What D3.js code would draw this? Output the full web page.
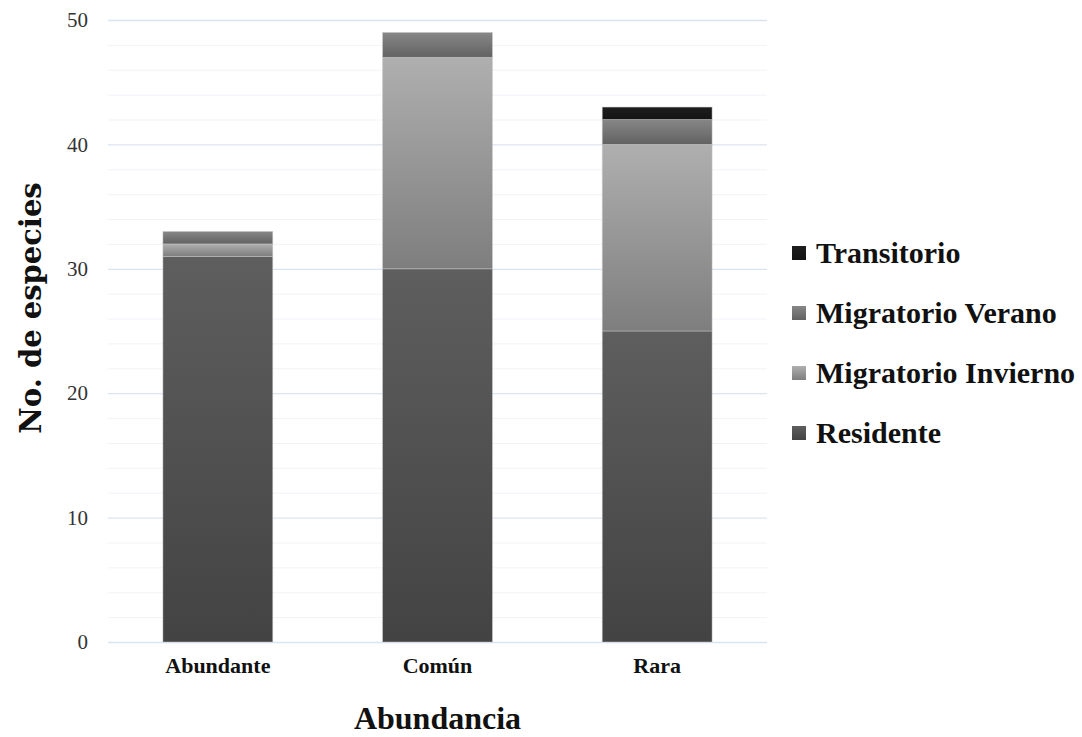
<!DOCTYPE html>
<html>
<head>
<meta charset="utf-8">
<script src="https://cdn.jsdelivr.net/npm/d3@7"></script>
<style>
  html, body { margin: 0; padding: 0; background: #fff; }
  svg { display: block; }
</style>
</head>
<body>
<svg id="chart" width="1082" height="737"></svg>
<script>
// Abundance categories and species counts per migratory status
const categories = ["Abundante", "Común", "Rara"];
const seriesNames = ["Residente", "Migratorio Invierno", "Migratorio Verano", "Transitorio"];
const residente = [31, 30, 25];
const migratorioInvierno = [1, 17, 15];
const migratorioVerano = [1, 2, 2];
const transitorio = [0, 0, 1];
const yTicks = [0, 10, 20, 30, 40, 50];

const rows = categories.map((c, i) => ({
  cat: c,
  "Residente": residente[i],
  "Migratorio Invierno": migratorioInvierno[i],
  "Migratorio Verano": migratorioVerano[i],
  "Transitorio": transitorio[i]
}));

const svg = d3.select("#chart");
const margin = { left: 108, right: 1082 - 767, top: 20, bottom: 737 - 642 };
const W = 1082, H = 737;

const x = d3.scaleBand().domain(categories).range([margin.left, W - margin.right]).paddingInner(0.5).paddingOuter(0.25);
const y = d3.scaleLinear().domain([0, 50]).range([H - margin.bottom, margin.top]);

// Gradient fills per series (top lighter, bottom darker)
const gradStops = {
  "Residente": ["#5e5e5e", "#434343"],
  "Migratorio Invierno": ["#afafaf", "#7e7e7e"],
  "Migratorio Verano": ["#878787", "#626262"],
  "Transitorio": ["#1e1e1e", "#141414"]
};
const defs = svg.append("defs");
seriesNames.forEach((s, i) => {
  const g = defs.append("linearGradient").attr("id", "g" + i)
    .attr("x1", 0).attr("y1", 0).attr("x2", 0).attr("y2", 1);
  g.append("stop").attr("offset", "0%").attr("stop-color", gradStops[s][0]);
  g.append("stop").attr("offset", "100%").attr("stop-color", gradStops[s][1]);
});

// Minor gridlines every 2
const minor = d3.range(2, 50, 2).filter(v => v % 10 !== 0);
svg.append("g").selectAll("line").data(minor).join("line")
  .attr("x1", margin.left).attr("x2", W - margin.right)
  .attr("y1", d => y(d) + 0.5).attr("y2", d => y(d) + 0.5)
  .attr("stroke", "#f1f3f7").attr("stroke-width", 1);

// Major gridlines + tick labels via axis
const yAxis = d3.axisLeft(y).tickValues(yTicks).tickSize(-(W - margin.left - margin.right)).tickPadding(20);
const ya = svg.append("g").attr("transform", `translate(${margin.left},0)`).call(yAxis);
ya.select(".domain").remove();
ya.selectAll(".tick line").attr("stroke", "#dbe5f1").attr("stroke-width", 1.3);
ya.selectAll(".tick text")
  .attr("font-family", "'Liberation Serif', 'DejaVu Serif', serif")
  .attr("font-size", 21).attr("fill", "#333");

// Stacked bars
const stack = d3.stack().keys(seriesNames);
const layers = stack(rows);
layers.forEach((layer, i) => {
  svg.append("g").selectAll("rect").data(layer.filter(d => d[1] - d[0] > 0)).join("rect")
    .attr("x", d => x(d.data.cat))
    .attr("width", x.bandwidth())
    .attr("y", d => y(d[1]))
    .attr("height", d => y(d[0]) - y(d[1]))
    .attr("fill", `url(#g${i})`)
    .attr("stroke", "rgba(200,200,200,0.6)")
    .attr("stroke-width", 0.8);
});

// Category labels
const xa = svg.append("g").attr("transform", `translate(0,${H - margin.bottom})`)
  .call(d3.axisBottom(x).tickSize(0).tickPadding(15));
xa.select(".domain").remove();
xa.selectAll(".tick text")
  .attr("font-family", "'Liberation Serif', serif")
  .attr("font-weight", "bold").attr("font-size", 22).attr("fill", "#111");

// Axis titles
svg.append("text")
  .attr("x", x("Común") + x.bandwidth() / 2).attr("y", 729)
  .attr("text-anchor", "middle")
  .attr("font-family", "'Liberation Serif', serif")
  .attr("font-weight", "bold").attr("font-size", 32).attr("fill", "#111")
  .text("Abundancia");

svg.append("text")
  .attr("transform", "translate(41,308) rotate(-90)")
  .attr("text-anchor", "middle")
  .attr("font-family", "'DejaVu Serif', serif")
  .attr("font-weight", "bold").attr("font-size", 29).attr("fill", "#111")
  .text("No. de especies");

// Legend (top series first)
const legendOrder = seriesNames.slice().reverse();
const lg = svg.append("g");
legendOrder.forEach((s, i) => {
  const idx = seriesNames.indexOf(s);
  const yy = 253 + i * 60;
  lg.append("rect").attr("x", 792).attr("y", yy - 7).attr("width", 14).attr("height", 14)
    .attr("fill", `url(#g${idx})`);
  lg.append("text").attr("x", 816).attr("y", yy + 10)
    .attr("font-family", "'Liberation Serif', serif")
    .attr("font-weight", "bold").attr("font-size", 30).attr("fill", "#111")
    .text(s);
});
</script>
</body>
</html>
